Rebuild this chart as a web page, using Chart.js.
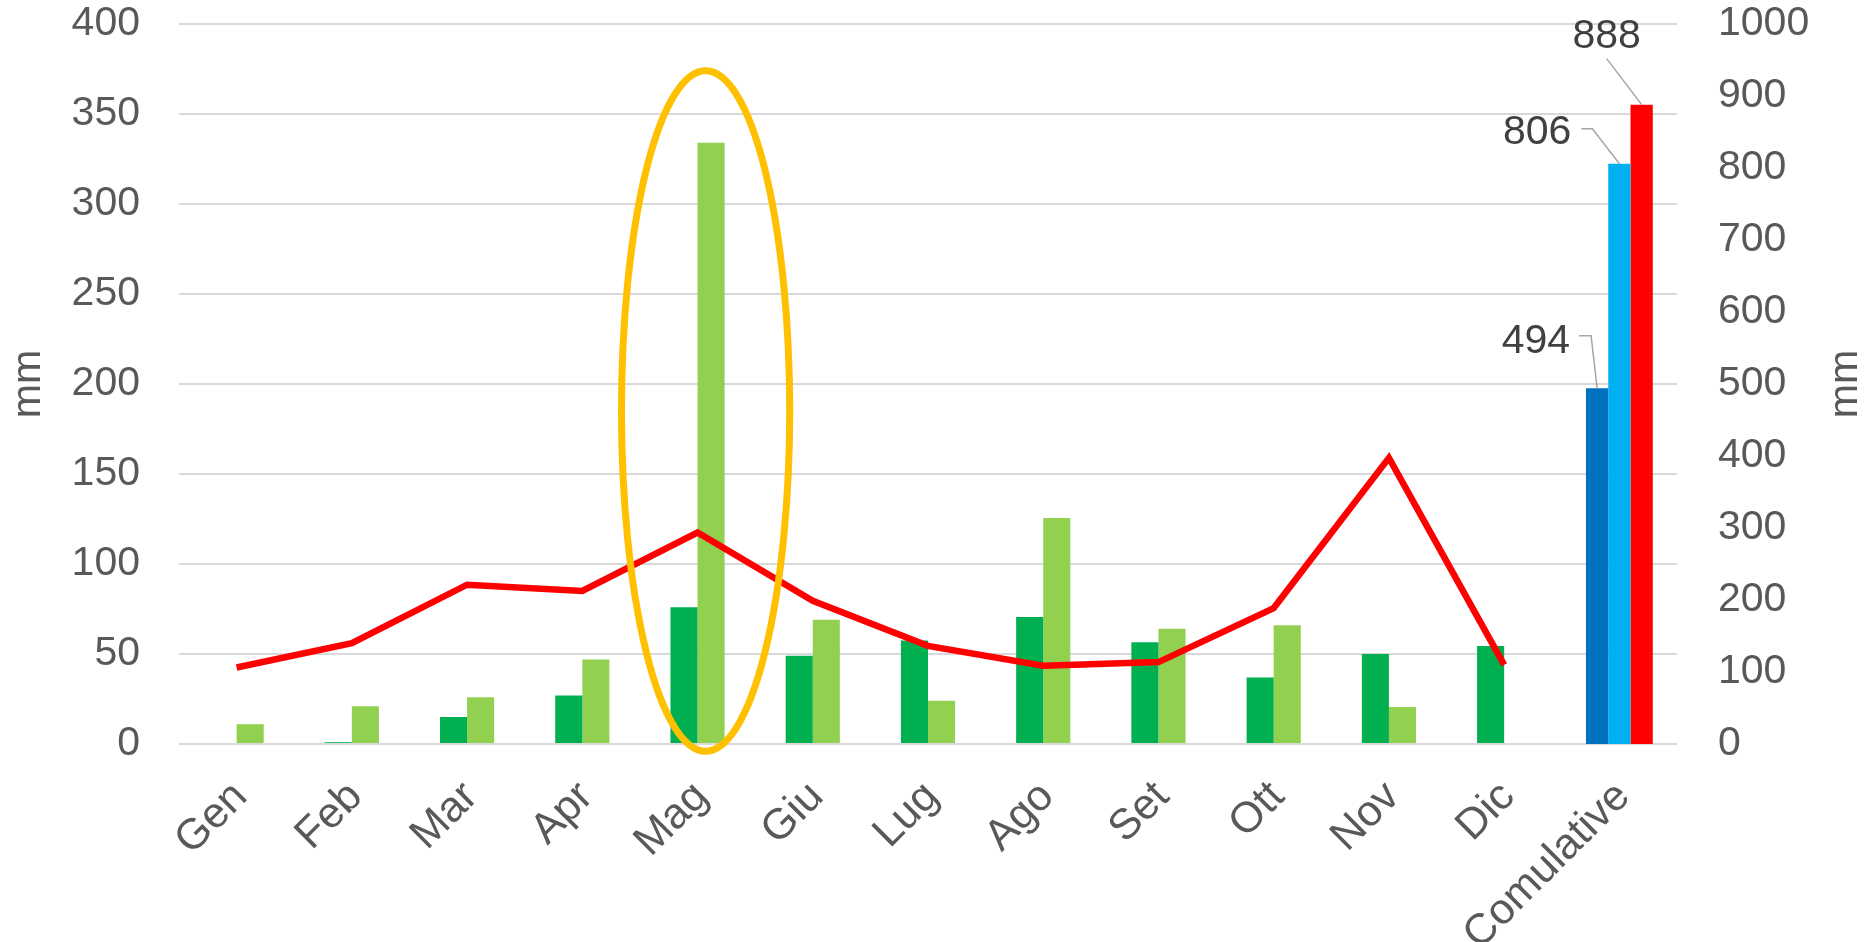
<!DOCTYPE html>
<html>
<head>
<meta charset="utf-8">
<script src="https://cdn.jsdelivr.net/npm/chart.js@4.4.1/dist/chart.umd.min.js"></script>
<style>
  html, body { margin: 0; padding: 0; background: #ffffff; }
  canvas { display: block; }
</style>
</head>
<body>
<canvas id="chart" width="1875" height="942"></canvas>
<script>
// ---------- DATA ----------
const categories = ['Gen', 'Feb', 'Mar', 'Apr', 'Mag', 'Giu', 'Lug', 'Ago', 'Set', 'Ott', 'Nov', 'Dic', 'Comulative'];
const monthlyDark  = [0, 1, 15, 27, 76, 49, 57.5, 70.5, 56.5, 37, 50, 54.5, null];
const monthlyLight = [11, 21, 26, 47, 334, 69, 24, 125.5, 64, 66, 20.5, 0, null];
const averageLine  = [42.5, 56, 88.5, 85, 117.5, 79.5, 54.5, 43.5, 45.5, 75.5, 159, 44, null];
const cumulativeValues = [494, 806, 888];
const cumulativeCategory = 'Comulative';
const leftTicks  = [0, 50, 100, 150, 200, 250, 300, 350, 400];
const rightTicks = [0, 100, 200, 300, 400, 500, 600, 700, 800, 900, 1000];
const axisTitle = 'mm';
const highlight = { category: 'Mag', top: 374, bottom: -4 };

// ---------- STYLE ----------
const FONT = '"Liberation Sans", Arial, sans-serif';
const TICK_COLOR = '#595959';
const LABEL_COLOR = '#404040';
const GRID_COLOR = '#D9D9D9';
const cumulativeColors = ['#0070C0', '#00B0F0', '#FF0000'];
const cumulativeLabelStyle = [
  { tx: -27, ty: -47, align: 'right', leader: [[-18, -52.5], [-6, -52.5], [0, 0]] },
  { tx: -48, ty: -31, align: 'right', leader: [[-38, -35], [-27, -35], [0, 0]] },
  { tx: -35, ty: -68, align: 'center', leader: [[-35, -46], [0, 0]] }
];

const cumIndex = categories.indexOf(cumulativeCategory);
const cumulativeDatasets = cumulativeValues.map((v, k) => ({
  type: 'bar',
  label: 'Cumulata ' + (k + 1),
  data: categories.map((_, i) => (i === cumIndex ? v : null)),
  backgroundColor: cumulativeColors[k],
  borderWidth: 0,
  xAxisID: 'x',
  yAxisID: 'y2',
  categoryPercentage: 0.58,
  barPercentage: 1.0,
  skipNull: true,
  order: 2
}));

const ellipsePlugin = {
  id: 'ellipse',
  afterDatasetsDraw(chart) {
    const x = chart.scales.x, y = chart.scales.y;
    const idx = categories.indexOf(highlight.category);
    const cw = x.width / categories.length;
    const cx = x.getPixelForValue(idx) + 0.07 * cw;
    const yt = y.getPixelForValue(highlight.top);
    const yb = y.getPixelForValue(highlight.bottom);
    const ctx = chart.ctx;
    ctx.save();
    ctx.beginPath();
    ctx.ellipse(cx, (yt + yb) / 2, 0.73 * cw, (yb - yt) / 2, 0, 0, Math.PI * 2);
    ctx.strokeStyle = '#FFC000';
    ctx.lineWidth = 7;
    ctx.stroke();
    ctx.restore();
  }
};

const labelsPlugin = {
  id: 'customLabels',
  afterDraw(chart) {
    const ctx = chart.ctx;
    const area = chart.chartArea;
    const xs = chart.scales.x;
    ctx.save();
    ctx.font = '43px ' + FONT;
    ctx.fillStyle = TICK_COLOR;
    ctx.textAlign = 'right';
    ctx.textBaseline = 'middle';
    categories.forEach((c, i) => {
      const px = xs.getPixelForValue(i);
      ctx.save();
      ctx.translate(px + 4, area.bottom + 46);
      ctx.rotate(-Math.PI / 4);
      ctx.fillText(c, 0, 0);
      ctx.restore();
    });
    ctx.font = '41px ' + FONT;
    ctx.textAlign = 'center';
    ctx.textBaseline = 'alphabetic';
    const cy = (area.top + area.bottom) / 2;
    [40, chart.width - 18].forEach(bx => {
      ctx.save();
      ctx.translate(bx, cy);
      ctx.rotate(-Math.PI / 2);
      ctx.fillText(axisTitle, 0, 0);
      ctx.restore();
    });
    cumulativeDatasets.forEach((ds, k) => {
      const meta = chart.getDatasetMeta(3 + k);
      const el = meta.data[cumIndex];
      if (!el) return;
      const st = cumulativeLabelStyle[k];
      ctx.beginPath();
      st.leader.forEach((p, j) => {
        const X = el.x + p[0], Y = el.y + p[1];
        if (j === 0) ctx.moveTo(X, Y); else ctx.lineTo(X, Y);
      });
      ctx.strokeStyle = '#A6A6A6';
      ctx.lineWidth = 1.5;
      ctx.stroke();
      ctx.fillStyle = LABEL_COLOR;
      ctx.font = '41px ' + FONT;
      ctx.textAlign = st.align;
      ctx.textBaseline = 'middle';
      ctx.fillText(String(cumulativeValues[k]), el.x + st.tx, el.y + st.ty);
    });
    ctx.restore();
  }
};

new Chart(document.getElementById('chart'), {
  data: {
    labels: categories,
    datasets: [
      {
        type: 'line',
        label: 'Media',
        data: averageLine,
        borderColor: '#FF0000',
        borderWidth: 6.5,
        pointRadius: 0,
        tension: 0,
        fill: false,
        xAxisID: 'x',
        yAxisID: 'y',
        order: 0
      },
      {
        type: 'bar',
        label: 'Serie 1',
        data: monthlyDark,
        backgroundColor: '#00B050',
        borderWidth: 0,
        xAxisID: 'x',
        yAxisID: 'y',
        categoryPercentage: 0.47,
        barPercentage: 1.0,
        skipNull: true,
        order: 1
      },
      {
        type: 'bar',
        label: 'Serie 2',
        data: monthlyLight,
        backgroundColor: '#92D050',
        borderWidth: 0,
        xAxisID: 'x',
        yAxisID: 'y',
        categoryPercentage: 0.47,
        barPercentage: 1.0,
        skipNull: true,
        order: 1
      },
      ...cumulativeDatasets
    ]
  },
  options: {
    responsive: false,
    animation: false,
    devicePixelRatio: 1,
    layout: { padding: { top: 24, left: 0, right: 0, bottom: 0 } },
    plugins: { legend: { display: false }, tooltip: { enabled: false } },
    scales: {
      x: {
        type: 'category',
        position: 'bottom',
        offset: true,
        grid: { display: false },
        border: { display: false },
        ticks: { display: false, autoSkip: false },
        afterFit(s) { s.height = 198; s.paddingLeft = 0; s.paddingRight = 0; }
      },
      y: {
        position: 'left',
        min: 0, max: 400,
        afterBuildTicks(s) { s.ticks = leftTicks.map(v => ({ value: v })); },
        grid: { color: GRID_COLOR, lineWidth: 2, drawTicks: false },
        border: { display: false },
        ticks: { color: TICK_COLOR, font: { family: FONT, size: 41 }, padding: 39, callback: v => String(v) },
        afterFit(s) { s.width = 179; s.paddingTop = 0; s.paddingBottom = 0; }
      },
      y2: {
        position: 'right',
        min: 0, max: 1000,
        afterBuildTicks(s) { s.ticks = rightTicks.map(v => ({ value: v })); },
        grid: { display: false, drawTicks: false },
        border: { display: false },
        ticks: { color: TICK_COLOR, font: { family: FONT, size: 41 }, padding: 41, callback: v => String(v) },
        afterFit(s) { s.width = 198; s.paddingTop = 0; s.paddingBottom = 0; }
      }
    }
  },
  plugins: [ellipsePlugin, labelsPlugin]
});
</script>
</body>
</html>
